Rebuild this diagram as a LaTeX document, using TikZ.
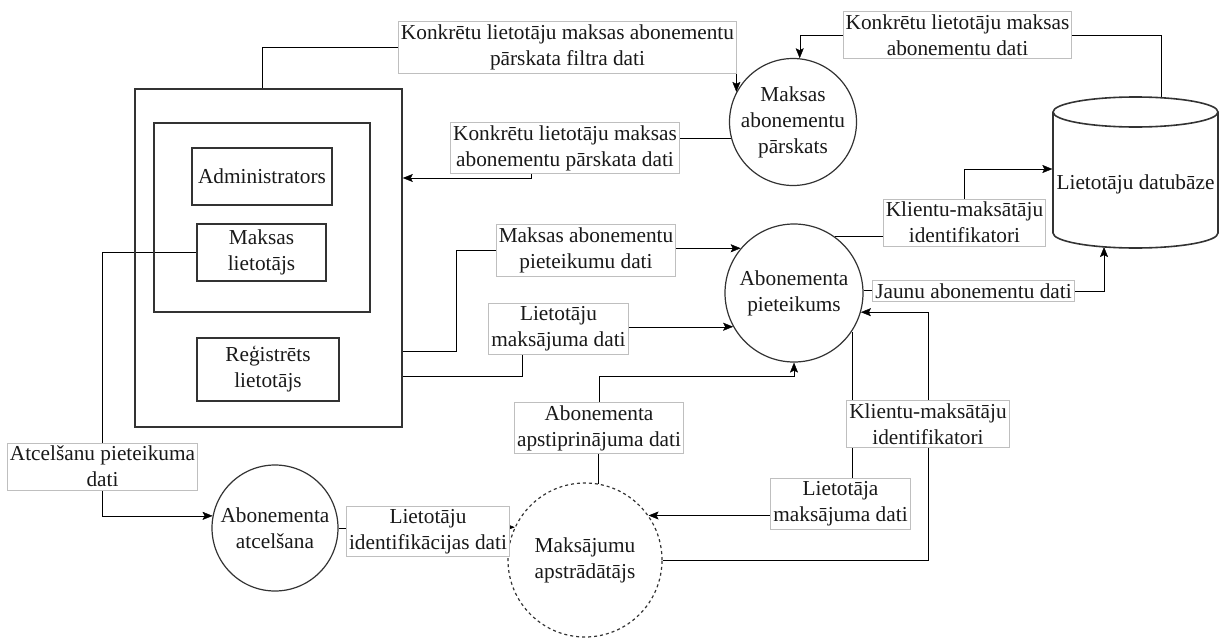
\documentclass[tikz,border=0pt]{standalone}
\usepackage{fontspec}
\setmainfont{Liberation Serif}
\usetikzlibrary{arrows.meta,backgrounds}

\begin{document}
\begin{tikzpicture}[x=1pt, y=-1pt,
                        color=black!80,
                        line width=1.3pt,
                        >={Stealth[length=10pt,width=8pt,inset=2pt]},
                        every node/.style={font=\fontsize{21.3}{26}\selectfont, text=black!90},
                        process node/.style={circle, draw, line width=1.2pt, inner sep=0pt, align=center},
                        entity node/.style={rectangle, draw, line width=1.6pt, inner sep=0pt, align=center},
                        flow node/.style={rectangle, draw=black!25, line width=0.8pt, fill=white, inner xsep=2.5pt, inner ysep=3pt, align=center}]

      \useasboundingbox (0,0) rectangle (1220,637);

      \node[entity node, minimum width=267pt, minimum height=338pt] (1) at (268.5,258) {};
      \node[entity node, minimum width=216pt, minimum height=189pt] (2) at (262,217.5) {};
      \node[entity node, minimum width=140pt, minimum height=57pt] (3) at (262,176.5) {Administrators};
      \node[entity node, minimum width=129pt, minimum height=57pt] (4) at (261.5,252.5) {Maksas\\lietotājs};
      \node[entity node, minimum width=142pt, minimum height=63pt] (5) at (268,369.5) {Reģistrēts\\lietotājs};

      \node[process node, minimum size=127pt] (6) at (793,122) {Maksas\\abonementu\\pārskats};
      \node[process node, minimum size=138pt] (7) at (794,293) {Abonementa\\pieteikums};
      \node[process node, dashed, minimum size=154pt] (8) at (585,560) {Maksājumu\\apstrādātājs};
      \node[process node, minimum size=126pt] (9) at (275,528) {Abonementa\\atcelšana};
      \node[inner sep=0pt, minimum width=165pt] (10) at (1135.5,184) {Lietotāju datubāze};
      \coordinate (dbtop) at (1161,98);
      \coordinate (dbbot) at (1104,247);

      \draw[line width=1.6pt] (1053,112) -- (1053,233) arc[start angle=180, end angle=360, x radius=82.5pt, y radius=15pt] -- (1218,112);
      \draw[line width=1.6pt] (1135.5,112) ellipse [x radius=82.5pt, y radius=15pt];

      \node[flow node] (11) at (567.5,47.5) {Konkrētu lietotāju maksas abonementu\\pārskata filtra dati};
      \node[flow node] (12) at (957.5,35) {Konkrētu lietotāju maksas\\abonementu dati};
      \node[flow node] (13) at (565,148) {Konkrētu lietotāju maksas\\abonementu pārskata dati};
      \node[flow node] (14) at (964.5,222.5) {Klientu-maksātāju\\identifikatori};
      \node[flow node] (15) at (973.5,291) {Jaunu abonementu dati};
      \node[flow node] (16) at (586,250.5) {Maksas abonementu\\pieteikumu dati};
      \node[flow node] (17) at (558.5,329) {Lietotāju\\maksājuma dati};
      \node[flow node] (18) at (599,428) {Abonementa\\apstiprinājuma dati};
      \node[flow node] (19) at (928,424) {Klientu-maksātāju\\identifikatori};
      \node[flow node] (20) at (840.5,504) {Lietotāja\\maksājuma dati};
      \node[flow node] (21) at (428,531.5) {Lietotāju\\identifikācijas dati};
      \node[flow node] (22) at (102.5,466.5) {Atcelšanu pieteikuma\\dati};

      \begin{scope}[on background layer]
      \draw (3 |- 1.north) |- (11.west);
      \draw[->] (11.east) -| (6.152);
      \draw (dbtop) |- (12.east);
      \draw[->] (12.west) -| (6.84);
      \draw (6.195) -- (6.195 -| 13.east);
      \draw[->] ([xshift=-34pt]13.south) |- (1.east |- 0,178);
      \draw (7.54) -- (7.54 -| 14.west);
      \draw[->] (14.north) |- ([yshift=15pt]10.west);
      \draw (7.2) -- (7.2 -| 15.west);
      \draw[->] (15.east) -| (dbbot);
      \draw (1.east |- 0,351) -| ([xshift=-40pt]16.west) -- (16.west);
      \draw[->] (16.east |- 7.140) -- (7.140);
      \draw (1.east |- 0,376) -| ([xshift=-36.5pt]17.south);
      \draw[->] (17.east |- 7.209) -- (7.209);
      \draw (8.80) -- (8.80 |- 18.south);
      \draw[->] (18.north) |- ([yshift=-14pt]7.south) -- (7.south);
      \draw (8.east) -| (19.south);
      \draw[->] (19.north) |- (7.344);
      \draw[->] (7.326) |- (8.35);
      \draw (9.east) -- (9.east -| 21.west);
      \draw[->] ([xshift=-6pt]21.east |- 8.155) -- (8.155);
      \draw (4.west) -| (22.north);
      \draw[->] (22.south) |- (9.169);
      \end{scope}

    \end{tikzpicture}
\end{document}
